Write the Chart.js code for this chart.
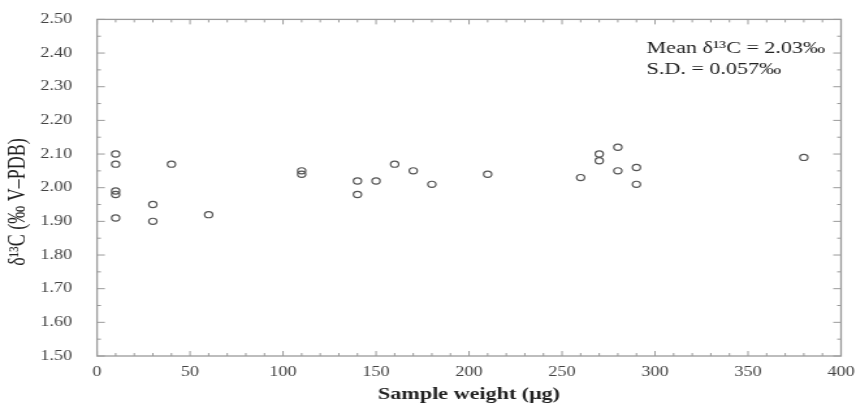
<!DOCTYPE html>
<html>
<head>
<meta charset="utf-8">
<script src="https://cdn.jsdelivr.net/npm/chart.js@4.4.0/dist/chart.umd.min.js"></script>
<style>
  html, body { margin: 0; padding: 0; background: #fff; overflow: hidden; }
  /* the source figure is stretched sideways, so draw narrow and widen it */
  #wrap { width: 658px; height: 405px; transform: scaleX(1.3009); transform-origin: 0 0; }
</style>
</head>
<body>
<div id="wrap"><canvas id="myChart" width="658" height="405"></canvas></div>
<script>
// sample weight (ug) and delta 13C for each measurement
const sampleWeight = [10, 10, 10, 10, 10, 30, 30, 40, 60, 110, 110, 140, 140, 150, 160, 170, 180, 210, 260, 270, 270, 280, 280, 290, 290, 380];
const delta13C = [2.10, 2.07, 1.99, 1.98, 1.91, 1.95, 1.90, 2.07, 1.92, 2.05, 2.04, 2.02, 1.98, 2.02, 2.07, 2.05, 2.01, 2.04, 2.03, 2.10, 2.08, 2.12, 2.05, 2.06, 2.01, 2.09];

const xTicks = [0, 50, 100, 150, 200, 250, 300, 350, 400];
const yTicks = [1.5, 1.6, 1.7, 1.8, 1.9, 2.0, 2.1, 2.2, 2.3, 2.4, 2.5];
const yTitle = "δ¹³C (‰ V–PDB)";
const notes = ["Mean δ¹³C = 2.03‰", "S.D. = 0.057‰"];

const ctx = document.getElementById("myChart").getContext("2d");
const serif = "'Liberation Serif', 'Times New Roman', serif";
const axisGray = "#9a9a9a";

const points = sampleWeight.map((w, i) => ({ x: w, y: delta13C[i] }));

// frame with inward ticks on all four sides, y title and the note text
const framePlugin = {
  id: "frame",
  afterDraw(chart) {
    const { ctx, chartArea: a, scales } = chart;
    const xs = scales.x, ys = scales.y;
    ctx.save();
    ctx.strokeStyle = axisGray;
    ctx.lineWidth = 1.3;
    ctx.strokeRect(a.left, a.top, a.right - a.left, a.bottom - a.top);
    ctx.lineWidth = 1;
    ctx.beginPath();
    for (let v = 0; v <= 400; v += 10) {
      const px = xs.getPixelForValue(v);
      const len = v % 50 === 0 ? 5 : 3;
      ctx.moveTo(px, a.bottom); ctx.lineTo(px, a.bottom - len);
      ctx.moveTo(px, a.top); ctx.lineTo(px, a.top + len);
    }
    for (let k = 0; k <= 20; k++) {
      const v = 1.5 + k * 0.05;
      const py = ys.getPixelForValue(v);
      const len = k % 2 === 0 ? 6 : 3;
      ctx.moveTo(a.left, py); ctx.lineTo(a.left + len, py);
      ctx.moveTo(a.right, py); ctx.lineTo(a.right - len, py);
    }
    ctx.stroke();

    ctx.fillStyle = "#222";
    ctx.textBaseline = "middle";
    ctx.textAlign = "center";
    ctx.font = "18px " + serif;
    ctx.save();
    ctx.translate(14, 202);
    ctx.rotate(-Math.PI / 2);
    ctx.fillText(yTitle, 0, 0);
    ctx.restore();

    ctx.font = "17px " + serif;
    ctx.textAlign = "left";
    ctx.fillText(notes[0], 497, 49);
    ctx.fillText(notes[1], 497, 70);
    ctx.restore();
  },
};

new Chart(ctx, {
  type: "scatter",
  data: {
    datasets: [
      {
        data: points,
        pointStyle: "circle",
        pointRadius: 3.1,
        pointBorderWidth: 1.2,
        pointBorderColor: "#555",
        pointBackgroundColor: "rgba(0,0,0,0)",
      },
    ],
  },
  options: {
    responsive: false,
    animation: false,
    layout: { padding: { top: 18, right: 11.5, left: 0, bottom: 0 } },
    plugins: { legend: { display: false }, tooltip: { enabled: false } },
    scales: {
      x: {
        type: "linear",
        min: 0,
        max: 400,
        afterBuildTicks: (s) => { s.ticks = xTicks.map((v) => ({ value: v })); },
        afterFit: (s) => { s.height = 49; },
        grid: { display: false },
        border: { display: false },
        ticks: { color: "#444", font: { family: serif, size: 14 }, padding: 0, maxRotation: 0 },
        title: { display: true, text: "Sample weight (μg)", color: "#222", font: { family: serif, size: 17, weight: "bold" }, padding: { top: 1, bottom: 0 } },
      },
      y: {
        type: "linear",
        min: 1.5,
        max: 2.5,
        afterBuildTicks: (s) => { s.ticks = yTicks.map((v) => ({ value: v })); },
        afterFit: (s) => { s.width = 74.6; },
        grid: { display: false },
        border: { display: false },
        ticks: { color: "#444", font: { family: serif, size: 14 }, padding: 11, callback: (v) => v.toFixed(2) },
      },
    },
  },
  plugins: [framePlugin],
});
</script>
</body>
</html>
